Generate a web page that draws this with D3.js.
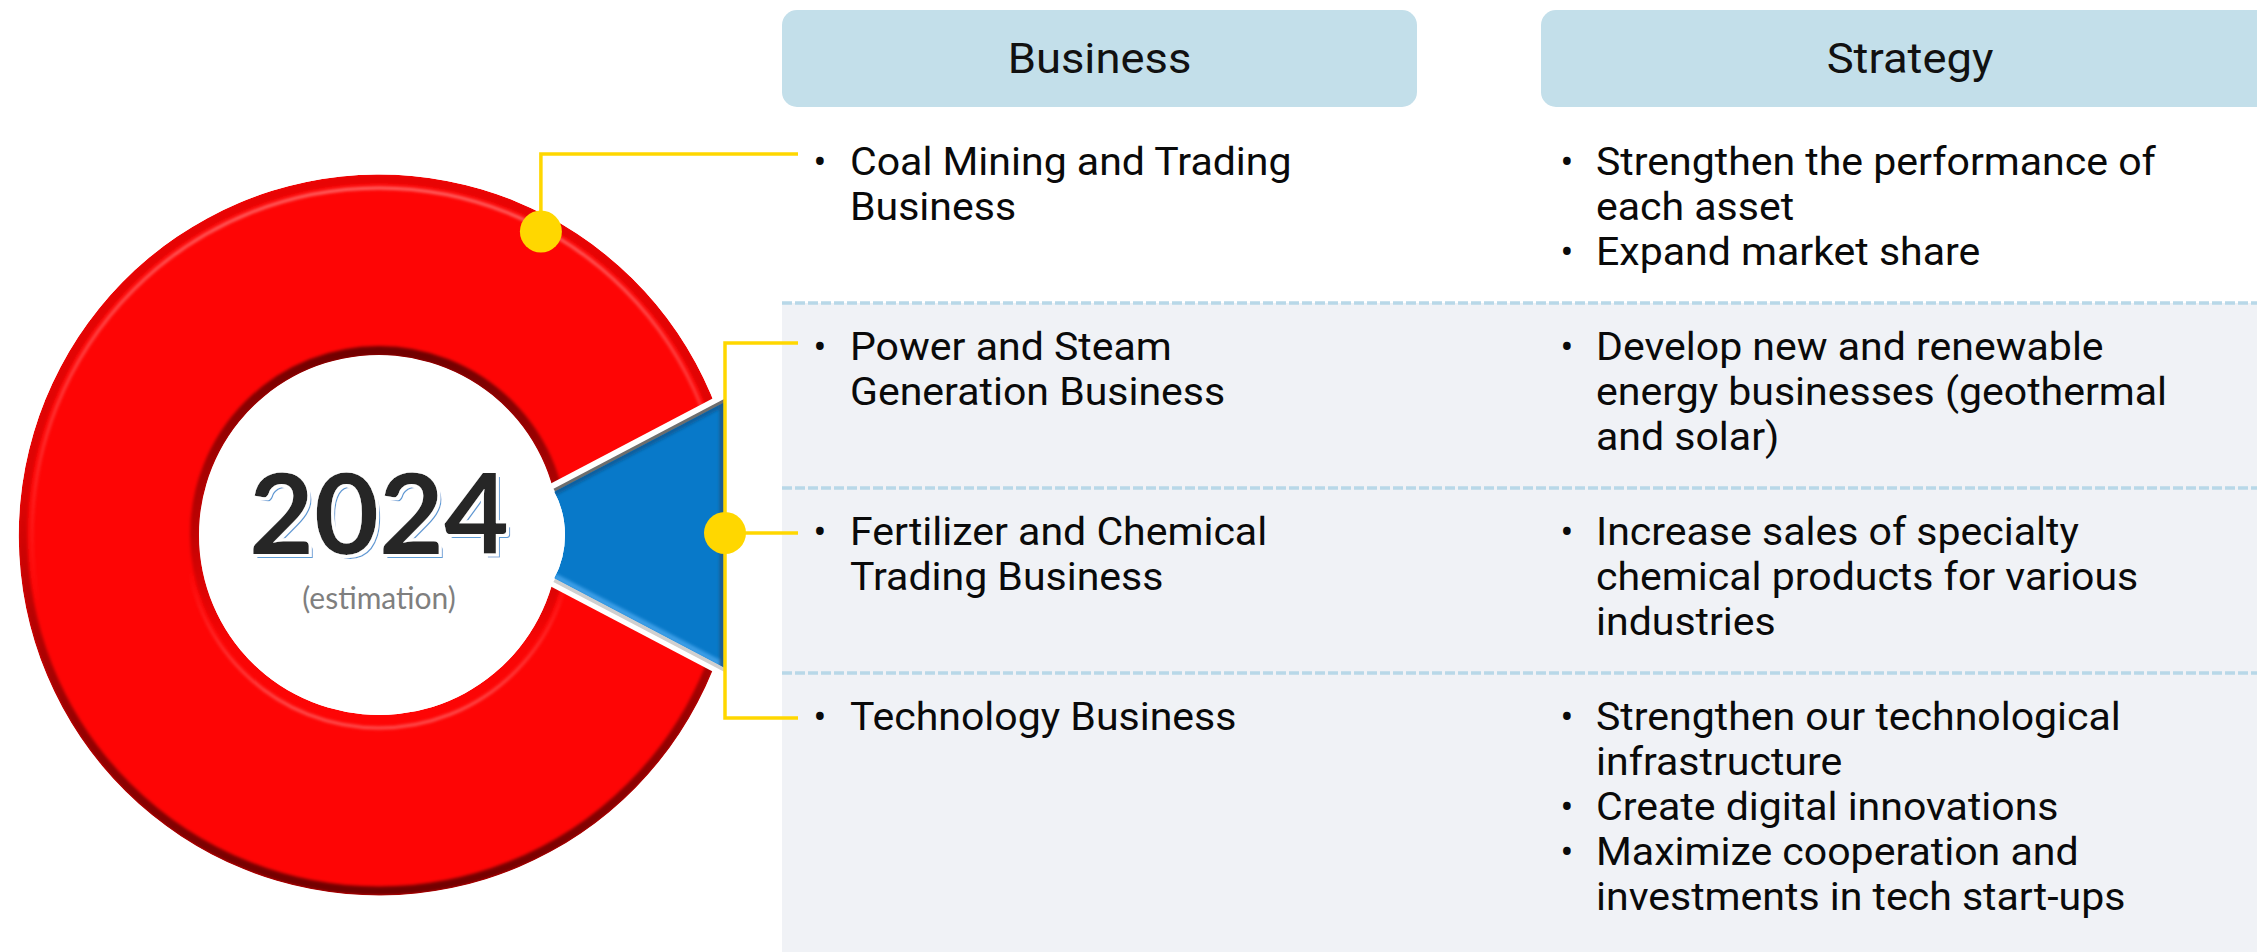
<!DOCTYPE html>
<html><head><meta charset="utf-8">
<script src="https://cdn.jsdelivr.net/npm/d3@7"></script>
<style>html,body{margin:0;padding:0;background:#fff;overflow:hidden} svg{display:block}</style>
</head><body><svg id="chart" width="2257" height="952"></svg>
<script>
// ---------------- data ----------------
const shareLabels = ["Coal Mining and Trading", "Power & Steam, Fertilizer & Chemical, Technology"];
const shareValues = [84.6, 15.4];
const yearLabel = "2024";
const yearNote = "(estimation)";
const columnHeaders = ["Business", "Strategy"];
const businessLines = [
  ["Coal Mining and Trading", "Business"],
  ["Power and Steam", "Generation Business"],
  ["Fertilizer and Chemical", "Trading Business"],
  ["Technology Business"]
];
const strategyBullets = [
  [["Strengthen the performance of", "each asset"], ["Expand market share"]],
  [["Develop new and renewable", "energy businesses (geothermal", "and solar)"]],
  [["Increase sales of specialty", "chemical products for various", "industries"]],
  [["Strengthen our technological", "infrastructure"], ["Create digital innovations"], ["Maximize cooperation and", "investments in tech start-ups"]]
];

// ---------------- layout ----------------
const W = 2257, H = 952;
const cx = 379, cy = 535, R = 360, r = 180;
const blueShift = 93, blueInner = 93, gapW = 9;
const bracketX = 725, lineEndX = 798;
const panelX = 782;
const lineH = 45;
const stretch = 1.08;
const connectorOffset = [-21, -17, -12, -12];
const topDotAngle = 0.49;   // radians clockwise from 12 o'clock
const yellow = "#FFD700";
const textFont = "Roboto, 'Open Sans', sans-serif";

const svg = d3.select("#chart");
const defs = svg.append("defs");

const rowY = d3.scaleLinear().domain([0, 1]).range([175, 360]); // first baseline of each row
const colX = d3.scaleOrdinal().domain(columnHeaders).range([820, 1567]); // bullet x
const headerBox = d3.scaleOrdinal().domain(columnHeaders).range([[782, 635], [1541, 738]]);

// ---------------- panel & dividers ----------------
svg.append("rect").attr("x", panelX).attr("y", rowY(1) - 57).attr("width", W - panelX).attr("height", H)
  .attr("fill", "#F0F2F6");
svg.selectAll("line.div").data([1, 2, 3]).join("line").attr("class", "div")
  .attr("x1", panelX).attr("x2", W).attr("y1", d => rowY(d) - 57).attr("y2", d => rowY(d) - 57)
  .attr("stroke", "#B8D8E8").attr("stroke-width", 3.5).attr("stroke-dasharray", "10 3");

// ---------------- headers ----------------
const hdr = svg.selectAll("g.hdr").data(columnHeaders).join("g").attr("class", "hdr");
hdr.append("rect").attr("x", d => headerBox(d)[0]).attr("y", 10).attr("width", d => headerBox(d)[1]).attr("height", 97)
  .attr("rx", 15).attr("fill", "#C3DFEA");
hdr.append("text")
  .attr("transform", d => `translate(${headerBox(d)[0] + headerBox(d)[1] / 2},73) scale(${stretch},1)`)
  .attr("text-anchor", "middle").attr("font-family", textFont).attr("font-size", 42)
  .attr("fill", "#111").text(d => d);

// ---------------- donut ----------------
const total = d3.sum(shareValues);
const half = Math.PI * shareValues[1] / total;
const pie = d3.pie().sort(null).startAngle(Math.PI / 2 + half).endAngle(Math.PI / 2 + half + 2 * Math.PI);
const slices = pie(shareValues);
const redSlice = slices[0], blueSlice = slices[1];

const ringArc = d3.arc().innerRadius(r).outerRadius(R);
const wedgeArc = d3.arc().innerRadius(0).outerRadius(800);
const blueArc = d3.arc().innerRadius(blueInner).outerRadius(330);
const blueApexX = cx + blueShift;
const cutApexX = blueApexX - gapW / Math.sin(half);

function grad(id, y1, y2, stops) {
  const g = defs.append("linearGradient").attr("id", id).attr("gradientUnits", "userSpaceOnUse")
    .attr("x1", 0).attr("x2", 0).attr("y1", y1).attr("y2", y2);
  stops.forEach(s => g.append("stop").attr("offset", s[0]).attr("stop-color", s[1]).attr("stop-opacity", s[2]));
}
grad("outerShade", cy - R, cy + R, [[0, "#700000", 0.15], [0.45, "#780000", 0.25], [0.75, "#780000", 0.75], [1, "#6a0000", 0.95]]);
grad("outerHi", cy - R, cy + R, [[0, "#ff8c8c", 0.8], [0.35, "#ff8c8c", 0.35], [0.6, "#ff8c8c", 0]]);
grad("innerShade", cy - r, cy + r, [[0, "#6a0000", 0.95], [0.45, "#800000", 0.55], [0.8, "#800000", 0.05], [1, "#800000", 0]]);
grad("innerHi", cy - r, cy + r, [[0, "#ff7a7a", 0], [0.6, "#ff7a7a", 0], [1, "#ff7a7a", 0.7]]);
defs.append("filter").attr("id", "soft").append("feGaussianBlur").attr("stdDeviation", 1.5);

const mask = defs.append("mask").attr("id", "ringCut").attr("maskUnits", "userSpaceOnUse")
  .attr("x", 0).attr("y", 0).attr("width", W).attr("height", H);
mask.append("rect").attr("width", W).attr("height", H).attr("fill", "#fff");
mask.append("path").attr("d", wedgeArc(blueSlice)).attr("transform", `translate(${cutApexX},${cy})`).attr("fill", "#000");

const fullRing = {startAngle: redSlice.startAngle, endAngle: redSlice.endAngle + 2 * half};
defs.append("clipPath").attr("id", "ringShape").append("path").attr("d", ringArc(fullRing))
  .attr("transform", `translate(${cx},${cy})`);

const red = svg.append("g").attr("mask", "url(#ringCut)");
const redInner = red.append("g").attr("clip-path", "url(#ringShape)");
redInner.append("path").attr("d", ringArc(fullRing)).attr("transform", `translate(${cx},${cy})`).attr("fill", "#FE0505");
const shade = redInner.append("g").attr("filter", "url(#soft)");
shade.append("circle").attr("cx", cx).attr("cy", cy).attr("r", R - 4).attr("fill", "none").attr("stroke", "url(#outerShade)").attr("stroke-width", 9);
shade.append("circle").attr("cx", cx).attr("cy", cy).attr("r", R - 13).attr("fill", "none").attr("stroke", "url(#outerHi)").attr("stroke-width", 3);
shade.append("circle").attr("cx", cx).attr("cy", cy).attr("r", r + 4).attr("fill", "none").attr("stroke", "url(#innerShade)").attr("stroke-width", 10);
shade.append("circle").attr("cx", cx).attr("cy", cy).attr("r", r + 13).attr("fill", "none").attr("stroke", "url(#innerHi)").attr("stroke-width", 3);

// blue slice
defs.append("clipPath").attr("id", "bracketClip").append("rect").attr("x", 0).attr("y", 0).attr("width", bracketX).attr("height", H);
defs.append("clipPath").attr("id", "blueShape").append("path").attr("d", blueArc(blueSlice))
  .attr("transform", `translate(${blueApexX},${cy})`);
const blue = svg.append("g").attr("clip-path", "url(#bracketClip)");
const topA = blueSlice.startAngle, botA = blueSlice.endAngle;
const edgeLen = (bracketX - blueApexX) / Math.cos(half);
function edge(a, t0, t1, off) {
  const p0 = d3.pointRadial(a, t0), p1 = d3.pointRadial(a, t1);
  return [[blueApexX + p0[0], cy + p0[1] + off], [blueApexX + p1[0], cy + p1[1] + off]];
}
const line = d3.line();
blue.append("path").attr("d", line(edge(botA, blueInner, edgeLen + 5, 2))).attr("stroke", "#cfcfcf").attr("stroke-width", 4).attr("fill", "none");
blue.append("path").attr("d", line(edge(topA, blueInner, edgeLen + 5, -1.5))).attr("stroke", "#6e6e6e").attr("stroke-width", 3.5).attr("fill", "none");
const blueIn = blue.append("g").attr("clip-path", "url(#blueShape)");
blueIn.append("path").attr("d", blueArc(blueSlice)).attr("transform", `translate(${blueApexX},${cy})`).attr("fill", "#0879C9");
const bShade = blueIn.append("g").attr("filter", "url(#soft)");
bShade.append("path").attr("d", line(edge(topA, blueInner, edgeLen + 5, 1))).attr("stroke", "#0a5f9e").attr("stroke-width", 6).attr("fill", "none");
bShade.append("path").attr("d", line(edge(botA, blueInner, edgeLen + 5, -2))).attr("stroke", "#3a9de6").attr("stroke-width", 6).attr("fill", "none");
bShade.append("line").attr("x1", bracketX - 3).attr("x2", bracketX - 3).attr("y1", 0).attr("y2", H).attr("stroke", "#1c5c8e").attr("stroke-width", 5);

// ---------------- connectors ----------------
const conn = svg.append("g").attr("stroke", yellow).attr("stroke-width", 3.5).attr("fill", "none");
const dp = d3.pointRadial(topDotAngle, (R + r) / 2 + 74);
const topDot = [cx + dp[0], cy + dp[1]];
const y0c = rowY(0) + connectorOffset[0];
conn.append("path").attr("d", line([topDot, [topDot[0], y0c], [lineEndX, y0c]]));
const yc = [1, 2, 3].map(i => rowY(i) + connectorOffset[i]);
conn.append("path").attr("d", line([[lineEndX, yc[0]], [bracketX, yc[0]], [bracketX, yc[2]], [lineEndX, yc[2]]]));
conn.append("path").attr("d", line([[bracketX, yc[1]], [lineEndX, yc[1]]]));
svg.selectAll("circle.dot").data([topDot, [bracketX, yc[1]]]).join("circle").attr("class", "dot")
  .attr("cx", d => d[0]).attr("cy", d => d[1]).attr("r", 21).attr("fill", yellow);

// ---------------- center text ----------------
const fx = defs.append("filter").attr("id", "yearFx").attr("x", "-20%").attr("y", "-40%").attr("width", "140%").attr("height", "180%");
fx.append("feMorphology").attr("in", "SourceAlpha").attr("operator", "dilate").attr("radius", 2.5).attr("result", "mainDil");
fx.append("feOffset").attr("in", "SourceAlpha").attr("dx", 4).attr("dy", 4).attr("result", "shAlpha");
fx.append("feMorphology").attr("in", "shAlpha").attr("operator", "dilate").attr("radius", 1.2).attr("result", "shDil");
fx.append("feFlood").attr("flood-color", "#ffffff").attr("result", "white");
fx.append("feComposite").attr("in", "white").attr("in2", "shDil").attr("operator", "in").attr("result", "shOutline");
fx.append("feFlood").attr("flood-color", "#5B9BD5").attr("result", "blueF");
fx.append("feComposite").attr("in", "blueF").attr("in2", "shAlpha").attr("operator", "in").attr("result", "shBlue");
fx.append("feComposite").attr("in", "white").attr("in2", "mainDil").attr("operator", "in").attr("result", "mainOutline");
const fm = fx.append("feMerge");
["shOutline", "shBlue", "mainOutline", "SourceGraphic"].forEach(n => fm.append("feMergeNode").attr("in", n));

svg.append("text").attr("x", cx).attr("y", 554).attr("text-anchor", "middle")
  .attr("font-family", "Lato, sans-serif").attr("font-weight", 700).attr("font-size", 112)
  .attr("fill", "#262626").attr("filter", "url(#yearFx)").text(yearLabel);
svg.append("text").attr("x", cx).attr("y", 609).attr("text-anchor", "middle").attr("font-family", "Lato, sans-serif")
  .attr("font-size", 30).attr("fill", "#7F7F7F").text(yearNote);

// ---------------- body text ----------------
const body = svg.append("g").attr("font-family", textFont).attr("font-size", 38).attr("fill", "#0a0a0a");
function para(x, y, lines) {
  const t = body.append("text").attr("transform", `translate(${x},${y}) scale(${stretch},1)`);
  lines.forEach((ln, j) => t.append("tspan").attr("x", 0).attr("dy", j === 0 ? 0 : lineH).text(ln));
}
businessLines.forEach((lines, i) => {
  const bx = colX("Business");
  body.append("text").attr("x", bx).attr("y", rowY(i)).attr("text-anchor", "middle").text("•");
  para(bx + 30, rowY(i), lines);
});
strategyBullets.forEach((bullets, i) => {
  const sx = colX("Strategy");
  let k = 0;
  bullets.forEach(lines => {
    body.append("text").attr("x", sx).attr("y", rowY(i) + k * lineH).attr("text-anchor", "middle").text("•");
    para(sx + 29, rowY(i) + k * lineH, lines);
    k += lines.length;
  });
});
</script></body></html>
